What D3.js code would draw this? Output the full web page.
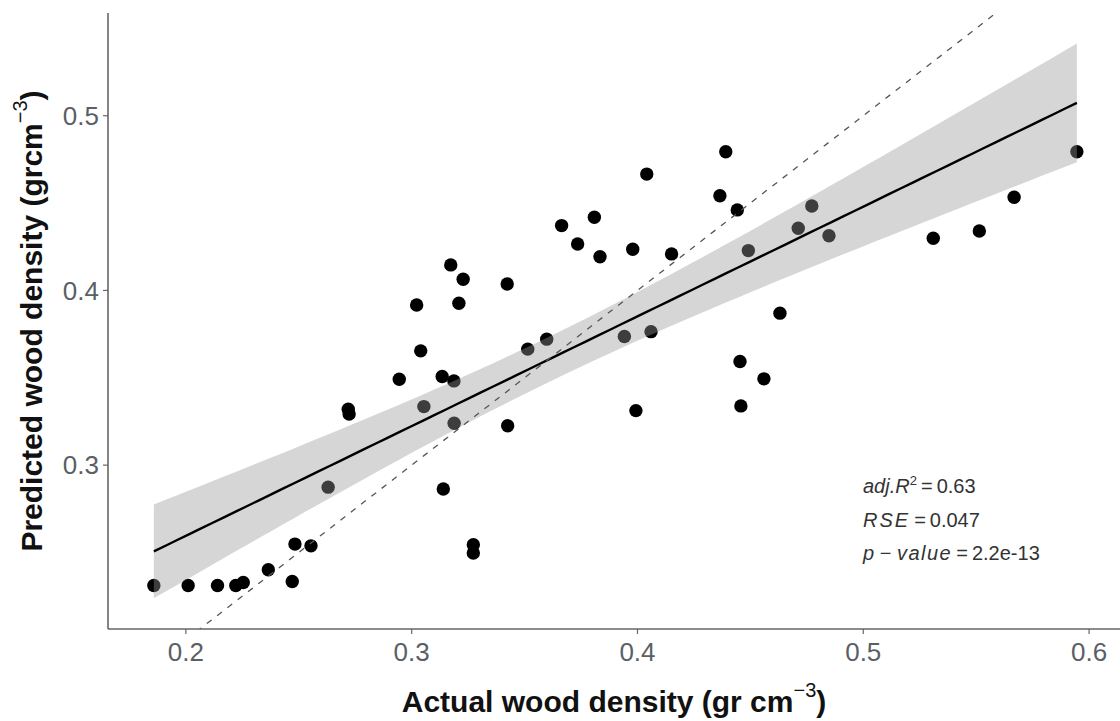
<!DOCTYPE html>
<html>
<head>
<meta charset="utf-8">
<script src="https://cdn.jsdelivr.net/npm/d3@7"></script>
<style>
  body { margin: 0; background: #fff; }
  svg { display: block; font-family: "Liberation Sans", Arial, sans-serif; }
  .tick-label { fill: #5a5f66; font-size: 26px; }
  .axis-title { fill: #111; font-size: 30px; font-weight: bold; }
  .stat { fill: #333; font-size: 20px; }
</style>
</head>
<body>
<div id="chart"></div>
<script>

// measured wood density (x) and model prediction (y), gr cm^-3
var actual = [
  0.1858, 0.2010, 0.2140, 0.2221, 0.2254, 0.2365, 0.2471, 0.2483, 0.2554, 0.2630,
  0.2719, 0.2723, 0.2945, 0.3022, 0.3040, 0.3054, 0.3135, 0.3140, 0.3173, 0.3187,
  0.3188, 0.3209, 0.3228, 0.3273, 0.3273, 0.3423, 0.3425, 0.3514, 0.3598, 0.3664,
  0.3735, 0.3809, 0.3834, 0.3942, 0.3979, 0.3993, 0.4041, 0.4060, 0.4151, 0.4365,
  0.4391, 0.4442, 0.4454, 0.4458, 0.4491, 0.4560, 0.4631, 0.4712, 0.4772, 0.4848,
  0.5310, 0.5514, 0.5668, 0.5946
];
var predicted = [
  0.2311, 0.2311, 0.2311, 0.2311, 0.2328, 0.2401, 0.2334, 0.2548, 0.2538, 0.2874,
  0.3320, 0.3293, 0.3492, 0.3917, 0.3654, 0.3335, 0.3507, 0.2863, 0.4146, 0.3482,
  0.3240, 0.3927, 0.4064, 0.2544, 0.2497, 0.4037, 0.3225, 0.3664, 0.3721, 0.4371,
  0.4266, 0.4419, 0.4193, 0.3736, 0.4236, 0.3312, 0.4666, 0.3764, 0.4209, 0.4542,
  0.4794, 0.4461, 0.3593, 0.3339, 0.4228, 0.3494, 0.3870, 0.4356, 0.4483, 0.4313,
  0.4299, 0.4340, 0.4533, 0.4794
];

var xTicks = [0.2, 0.3, 0.4, 0.5, 0.6];
var yTicks = [0.3, 0.4, 0.5];
var xDomain = [0.1655, 0.6137];
var yDomain = [0.2062, 0.5588];

var statLines = [
  [{t: "adj.R", i: true}, {t: "2", sup: true}, {t: "\u2009=\u20090.63"}],
  [{t: "RSE", i: true, ls: 2}, {t: "\u2009=\u20090.047"}],
  [{t: "p", i: true}, {t: " \u2212 "}, {t: "value", i: true, ls: 1.5}, {t: "\u2009=\u20092.2e-13"}]
];

var W = 1120, H = 721;
var margin = { top: 13, right: 0, bottom: 92, left: 108 };
var width = W - margin.left - margin.right;
var height = H - margin.top - margin.bottom;

var svg = d3.select("#chart").append("svg")
  .attr("width", W)
  .attr("height", H);

var g = svg.append("g")
  .attr("transform", "translate(" + margin.left + "," + margin.top + ")");

var x = d3.scaleLinear().domain(xDomain).range([0, width]);
var y = d3.scaleLinear().domain(yDomain).range([height, 0]);

g.append("clipPath").attr("id", "panel")
  .append("rect").attr("width", width).attr("height", height);

// least squares fit + 95% confidence band (like geom_smooth(method = "lm"))
var n = actual.length;
var xbar = d3.mean(actual), ybar = d3.mean(predicted);
var sxx = 0, sxy = 0;
actual.forEach(function(d, i){
  sxx += (d - xbar) * (d - xbar);
  sxy += (d - xbar) * (predicted[i] - ybar);
});
var slope = sxy / sxx, intercept = ybar - slope * xbar;
var sse = 0;
actual.forEach(function(d, i){
  var r = predicted[i] - (intercept + slope * d);
  sse += r * r;
});
var s = Math.sqrt(sse / (n - 2));
var tq = 2.0066; // qt(0.975, 52)

var xmin = d3.min(actual), xmax = d3.max(actual);
var fit = d3.range(80).map(function(k){
  var xv = xmin + (xmax - xmin) * k / 79;
  var yv = intercept + slope * xv;
  var se = s * Math.sqrt(1 / n + (xv - xbar) * (xv - xbar) / sxx);
  return { x: xv, y: yv, lo: yv - tq * se, hi: yv + tq * se };
});

// points
g.selectAll(".dot")
  .data(actual)
  .enter().append("circle")
  .attr("class", "dot")
  .attr("cx", function(d){ return x(d); })
  .attr("cy", function(d, i){ return y(predicted[i]); })
  .attr("r", 6.7)
  .attr("fill", "#000");

// confidence ribbon on top of points
g.append("path")
  .datum(fit)
  .attr("fill", "#999999")
  .attr("fill-opacity", 0.4)
  .attr("d", d3.area()
    .x(function(d){ return x(d.x); })
    .y0(function(d){ return y(d.lo); })
    .y1(function(d){ return y(d.hi); }));

g.append("path")
  .datum(fit)
  .attr("fill", "none")
  .attr("stroke", "#000")
  .attr("stroke-width", 2.4)
  .attr("d", d3.line()
    .x(function(d){ return x(d.x); })
    .y(function(d){ return y(d.y); }));

// 1:1 line
g.append("line")
  .attr("clip-path", "url(#panel)")
  .attr("x1", x(0.1)).attr("y1", y(0.1))
  .attr("x2", x(0.7)).attr("y2", y(0.7))
  .attr("stroke", "#555")
  .attr("stroke-width", 1.3)
  .attr("stroke-dasharray", "6,7");

// axes
var axisColor = "#666";
g.append("line")
  .attr("x1", 0).attr("x2", 0).attr("y1", 0).attr("y2", height)
  .attr("stroke", axisColor).attr("stroke-width", 1.6);
g.append("line")
  .attr("x1", 0).attr("x2", width).attr("y1", height).attr("y2", height)
  .attr("stroke", axisColor).attr("stroke-width", 1.6);

g.selectAll(".xtick").data(xTicks).enter().append("line")
  .attr("x1", function(d){ return x(d); }).attr("x2", function(d){ return x(d); })
  .attr("y1", height).attr("y2", height + 5)
  .attr("stroke", axisColor).attr("stroke-width", 1.2);
g.selectAll(".xlab").data(xTicks).enter().append("text")
  .attr("class", "tick-label")
  .attr("text-anchor", "middle")
  .attr("x", function(d){ return x(d); })
  .attr("y", height + 32)
  .text(d3.format(".1f"));

g.selectAll(".ytick").data(yTicks).enter().append("line")
  .attr("y1", function(d){ return y(d); }).attr("y2", function(d){ return y(d); })
  .attr("x1", -5).attr("x2", 0)
  .attr("stroke", axisColor).attr("stroke-width", 1.2);
g.selectAll(".ylab").data(yTicks).enter().append("text")
  .attr("class", "tick-label")
  .attr("text-anchor", "end")
  .attr("x", -9)
  .attr("y", function(d){ return y(d); })
  .attr("dy", "0.36em")
  .text(d3.format(".1f"));

// axis titles
var xt = svg.append("text")
  .attr("class", "axis-title")
  .attr("text-anchor", "middle")
  .attr("x", margin.left + width / 2)
  .attr("y", 712);
xt.append("tspan").text("Actual wood density (gr cm");
xt.append("tspan").attr("font-size", "20px").attr("font-weight", "normal").attr("dy", -15).text("\u22123");
xt.append("tspan").attr("dy", 15).text(")");

var yt = svg.append("text")
  .attr("class", "axis-title")
  .attr("text-anchor", "middle")
  .attr("transform", "translate(42," + (margin.top + height / 2) + ")rotate(-90)");
yt.append("tspan").text("Predicted wood density (grcm");
yt.append("tspan").attr("font-size", "20px").attr("font-weight", "normal").attr("dy", -15).text("\u22123");
yt.append("tspan").attr("dy", 15).text(")");

// fit statistics
statLines.forEach(function(parts, k){
  var t = svg.append("text")
    .attr("class", "stat")
    .attr("x", 863)
    .attr("y", 493 + k * 33.5);
  parts.forEach(function(p){
    var sp = t.append("tspan").text(p.t);
    if (p.i) sp.attr("font-style", "italic");
    if (p.ls) sp.attr("letter-spacing", p.ls);
    if (p.sup) sp.attr("font-size", "13px").attr("dy", -8);
    else if (parts.some(function(q){ return q.sup; }) && p !== parts[0]) sp.attr("dy", 8);
  });
});

</script>
</body>
</html>
